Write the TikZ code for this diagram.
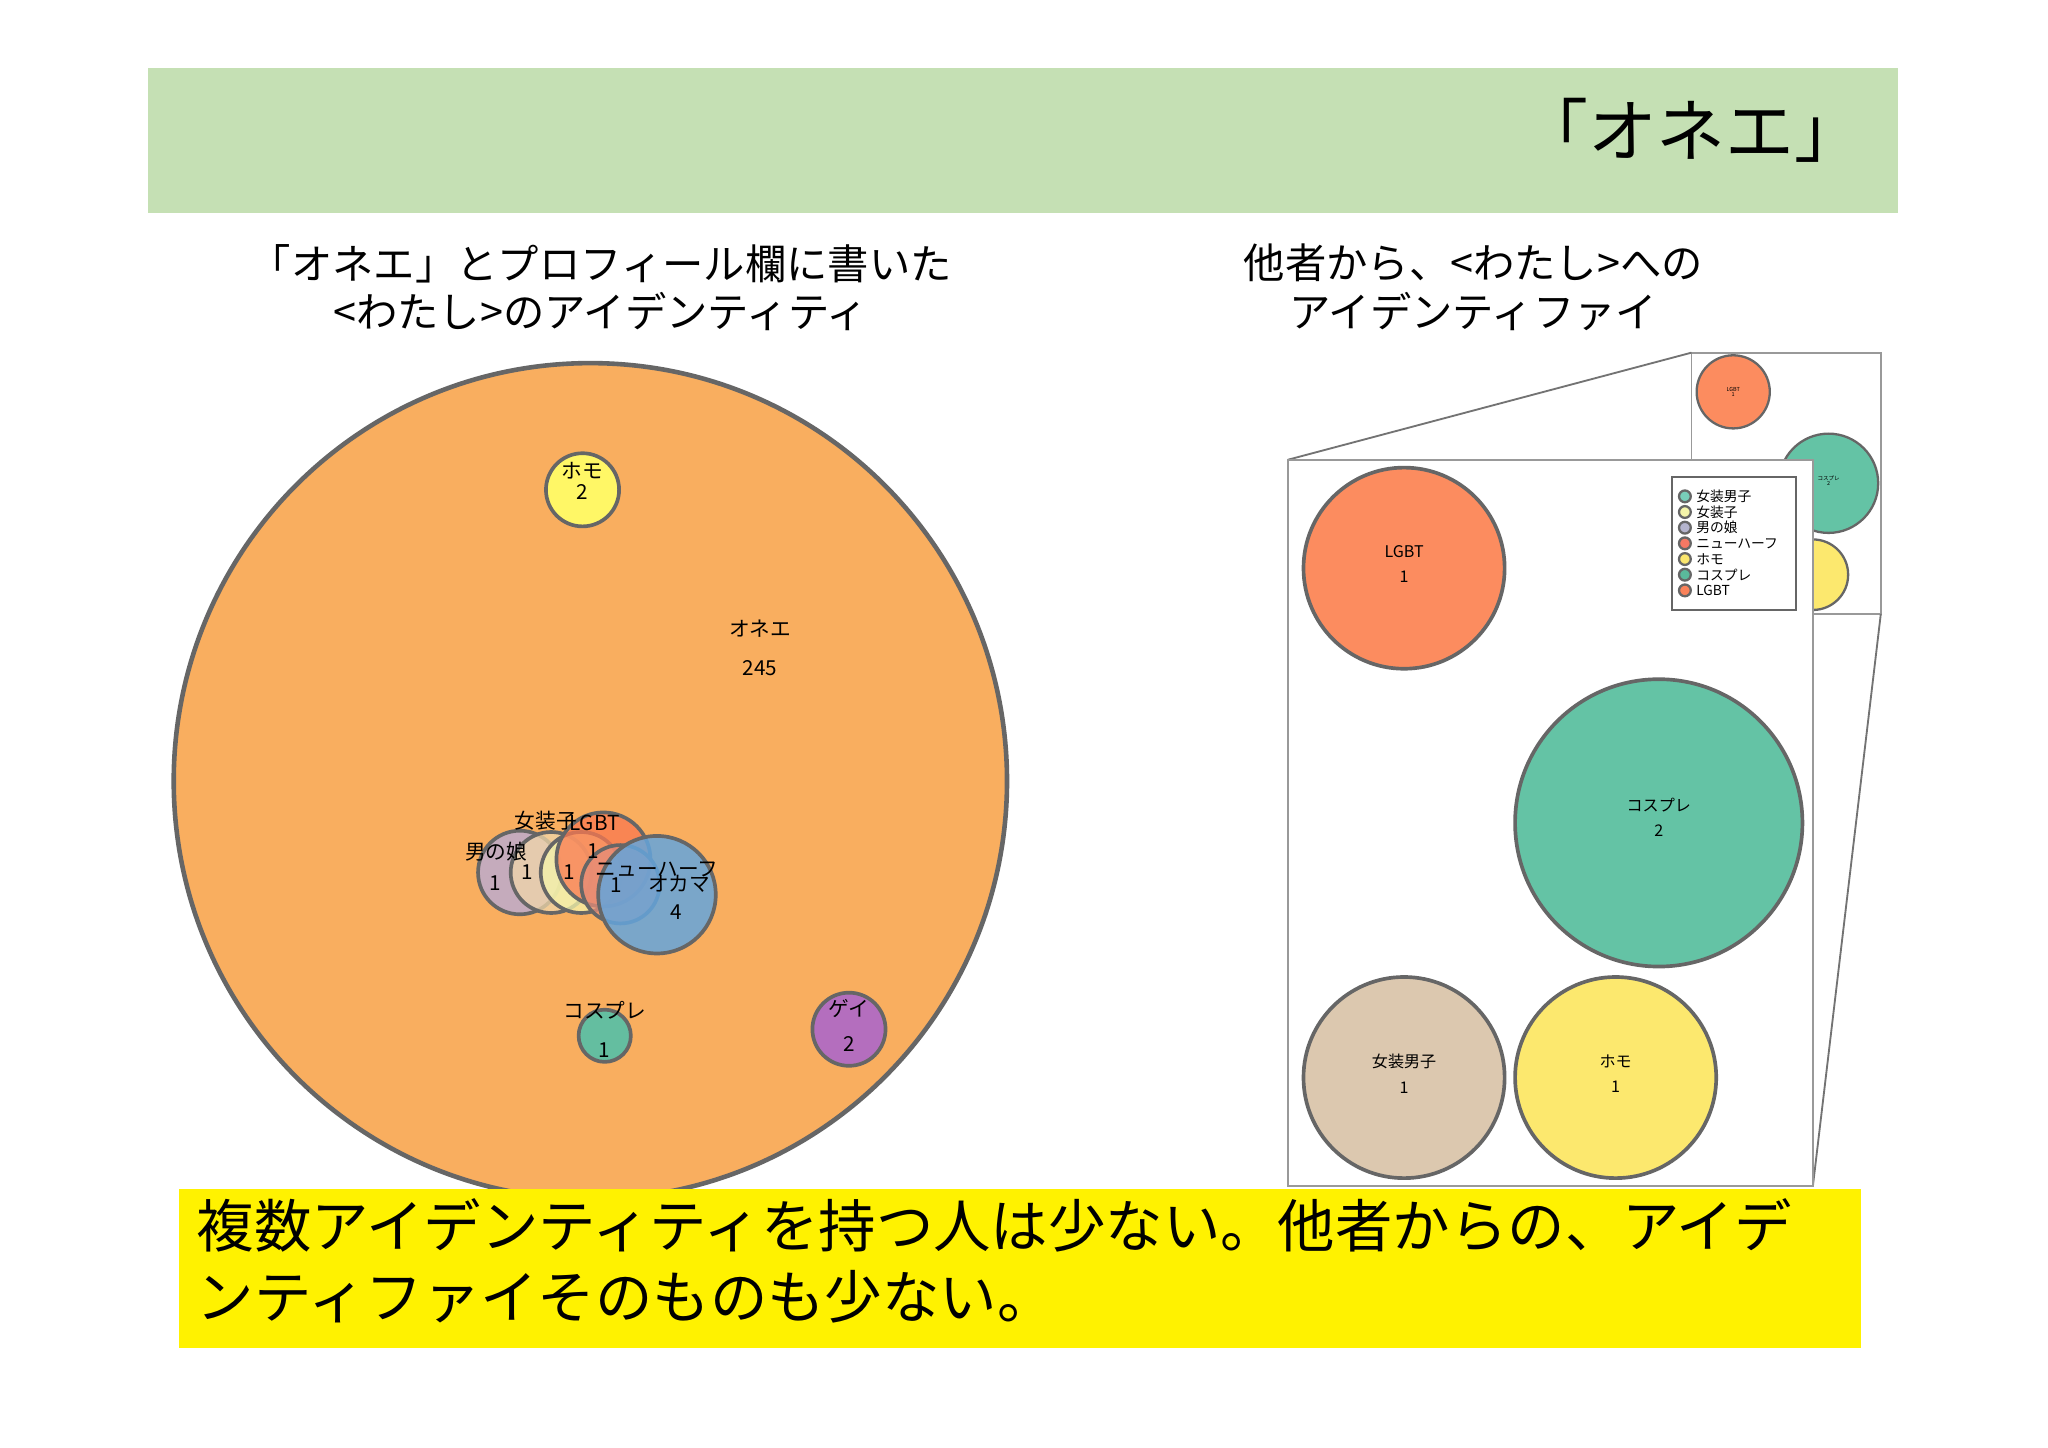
\documentclass[tikz,border=0pt]{standalone}
\usepackage{fontspec}
\setmainfont{Noto Sans CJK JP}
\newcommand{\fs}[1]{\fontsize{#1}{#1}\selectfont}
\begin{document}
\begin{tikzpicture}[x=0.01cm,y=-0.01cm,
  circ/.style={draw=black!60,line width=0.8pt,fill opacity=0.75},
  lbl/.style={font=\fs{4.5},align=center,inner sep=0},
  ttl/.style={font=\fs{9},align=center,inner sep=0}]
\useasboundingbox (0,0) rectangle (1568,1108.6);
\fill[white] (0,0) rectangle (1568,1108.6);
\fill[fill={rgb,255:red,197;green,224;blue,180}] (113,52) rectangle (1453,163);
\node[inner sep=0,font=\fs{15}] (t) at (1295,100) {「オネエ」};
\node[ttl] (s1) at (460,220) {「オネエ」とプロフィール欄に書いた\\[1.5pt]<わたし>のアイデンティティ};
\node[ttl] (s2) at (1128,220) {他者から、<わたし>への\\[1.5pt]アイデンティファイ};
% big circle
\draw[draw=black!60,line width=1pt,fill={rgb,255:red,249;green,174;blue,95}] (452,598) ellipse (319 and 320);
\draw[circ,fill=yellow!60,fill opacity=1] (446,375) circle (28);
\node[lbl] (ho) at (446,368) {ホモ\\2};
\node[lbl] (on) at (582,496) {オネエ\\[4pt]245};
\draw[circ,fill={rgb,255:red,180;green,170;blue,220}] (398,668) circle (32);
\draw[circ,fill={rgb,255:red,240;green,215;blue,170}] (422,668) circle (31);
\draw[circ,fill={rgb,255:red,245;green,245;blue,170}] (445,668) circle (31);
\draw[circ,fill={rgb,255:red,250;green,120;blue,80}] (462,658) circle (36);
\draw[circ,fill={rgb,255:red,230;green,140;blue,120}] (475,677) circle (30);
\draw[circ,fill={rgb,255:red,100;green,165;blue,220},fill opacity=0.85] (503,685) circle (45);
\node[lbl] at (380,652) {男の娘};
\node[lbl] at (418,628) {女装子};
\node[lbl] at (455,630) {LGBT};
\node[lbl] at (503,666) {ニューハーフ};
\node[lbl] at (520,677) {オカマ};
\node[lbl] at (379,676) {1};
\node[lbl] at (404,668) {1};
\node[lbl] at (436,668) {1};
\node[lbl] at (454,652) {1};
\node[lbl] at (472,678) {1};
\node[lbl] at (518,698) {4};
\draw[circ,fill={rgb,255:red,100;green,190;blue,160},fill opacity=1] (463,793) circle (20);
\node[lbl] (co) at (463,788) {コスプレ\\[4pt]1};
\draw[circ,fill={rgb,255:red,180;green,110;blue,190},fill opacity=1] (650,788) circle (28);
\node[lbl] (ge) at (650,785) {ゲイ\\[3pt]2};
% right panels
\draw[black!40,fill=white] (1295,270) rectangle (1440,470);
\draw[circ,fill={rgb,255:red,252;green,140;blue,95},fill opacity=1,line width=0.5pt] (1327,300) circle (28);
\node[lbl,font=\fs{1.2}] at (1327,300) {LGBT\\1};
\draw[circ,fill={rgb,255:red,100;green,195;blue,165},fill opacity=1,line width=0.5pt] (1400,370) circle (38);
\node[lbl,font=\fs{1.2}] at (1400,368) {コスプレ\\2};
\draw[circ,fill={rgb,255:red,252;green,232;blue,110},fill opacity=1,line width=0.5pt] (1388,440) circle (27);
\draw[black!55] (986,352) -- (1295,270);
\draw[black!55] (1388,908) -- (1440,470);
\draw[black!40,fill=white] (986,352) rectangle (1388,908);
\draw[circ,fill={rgb,255:red,252;green,140;blue,95},fill opacity=1] (1075,435) circle (77);
\node[lbl,font=\fs{3.5}] at (1075,432) {LGBT\\[2pt]1};
\draw[circ,fill={rgb,255:red,100;green,195;blue,165},fill opacity=1] (1270,630) circle (110);
\node[lbl,font=\fs{3.5}] at (1270,626) {コスプレ\\[2pt]2};
\draw[circ,fill={rgb,255:red,220;green,200;blue,175},fill opacity=1] (1075,825) circle (77);
\node[lbl,font=\fs{3.5}] at (1075,822) {女装男子\\[2pt]1};
\draw[circ,fill={rgb,255:red,252;green,232;blue,110},fill opacity=1] (1237,825) circle (77);
\node[lbl,font=\fs{3.5}] at (1237,822) {ホモ\\[2pt]1};
% legend
\draw[black!60,fill=white] (1280,365) rectangle (1375,467);
\foreach \i/\c/\t in {0/{rgb,255:red,120;green,205;blue,185}/女装男子,1/{rgb,255:red,245;green,245;blue,170}/女装子,2/{rgb,255:red,180;green,180;blue,205}/男の娘,3/{rgb,255:red,245;green,120;blue,100}/ニューハーフ,4/{rgb,255:red,250;green,230;blue,110}/ホモ,5/{rgb,255:red,90;green,185;blue,155}/コスプレ,6/{rgb,255:red,250;green,130;blue,90}/LGBT}{
  \draw[black!60,line width=0.5pt,fill=\c] (1290,380+\i*12) circle (4.5);
  \node[anchor=west,inner sep=0,font=\fs{3}] at (1298,380+\i*12) {\t};
}
% bottom box
\fill[yellow] (137,910) rectangle (1425,1032);
\node[anchor=north west,inner sep=0,align=left,font=\fs{12.5}] (b) at (150,917)
 {複数アイデンティティを持つ人は少ない。他者からの、アイデ\\[3pt]ンティファイそのものも少ない。};
\end{tikzpicture}
\end{document}
